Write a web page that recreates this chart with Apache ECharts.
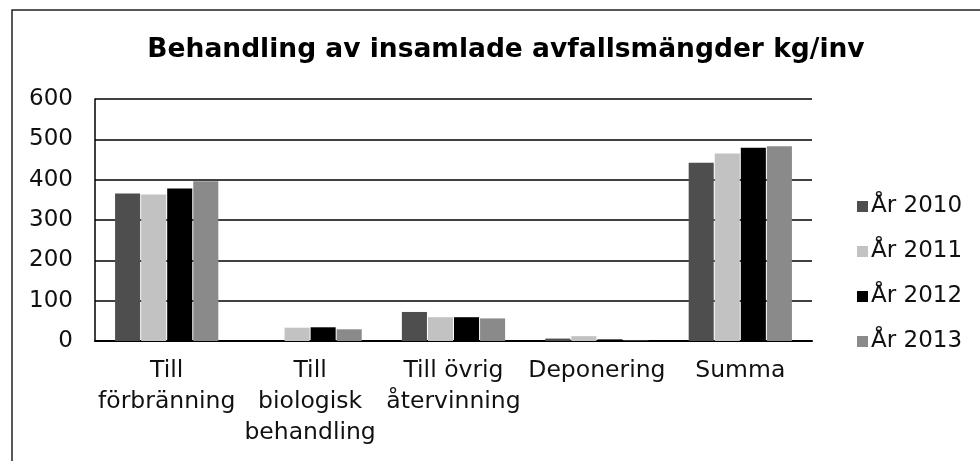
<!DOCTYPE html>
<html>
<head>
<meta charset="utf-8">
<script src="https://cdn.jsdelivr.net/npm/echarts@6/dist/echarts.min.js"></script>
<style>
  html, body { margin: 0; padding: 0; background: #fff; }
  #chart { width: 980px; height: 461px; }
</style>
</head>
<body>
<div id="chart"></div>
<script>
'use strict';
// kategorier och värden (kg/inv)
let categories = ['Till\nförbränning', 'Till\nbiologisk\nbehandling', 'Till övrig\nåtervinning', 'Deponering', 'Summa'];
let years = ['År 2010', 'År 2011', 'År 2012', 'År 2013'];
let y2010 = [366, 0, 72, 6, 442];
let y2011 = [363, 33, 59, 12, 465];
let y2012 = [378, 34, 59, 4, 479];
let y2013 = [396, 29, 56, 1, 483];
let yTicks = [0, 100, 200, 300, 400, 500, 600];

let colors = ['#4e4e4e', '#c2c2c2', '#000000', '#8a8a8a'];
let allData = [y2010, y2011, y2012, y2013];

let myChart = echarts.init(document.getElementById('chart'));
let series = [];
for (let i = 0; i < years.length; i++) {
    series.push({
        name: years[i],
        type: 'bar',
        data: allData[i],
        barGap: '4%',
        barCategoryGap: '28%',
        itemStyle: { color: colors[i] },
    });
}

let font = 'DejaVu Sans, Liberation Sans, sans-serif';
let option = {
    animation: false,
    textStyle: { fontFamily: font },
    title: {
        text: 'Behandling av insamlade avfallsmängder kg/inv',
        left: 501,
        textAlign: 'center',
        top: 32,
        textStyle: { fontSize: 26.5, fontWeight: 'bold', color: '#000', fontFamily: font },
    },
    graphic: [{
        type: 'polyline',
        shape: { points: [[980, 10], [12, 10], [12, 461]] },
        style: { stroke: '#222', lineWidth: 1.5, fill: null },
    }],
    legend: {
        orient: 'vertical',
        left: 852,
        top: 190,
        itemWidth: 11,
        itemHeight: 11,
        itemGap: 22,
        icon: 'rect',
        textStyle: { fontSize: 23, color: '#111', fontFamily: font, padding: [0, 0, 0, -2] },
        data: years,
    },
    grid: { left: 95, right: 168, top: 99, bottom: 120 },
    xAxis: {
        type: 'category',
        data: categories,
        axisLine: { lineStyle: { color: '#000', width: 2 } },
        axisTick: { show: false },
        axisLabel: { fontSize: 23.5, color: '#111', lineHeight: 31, margin: 14, interval: 0, fontFamily: font },
    },
    yAxis: {
        type: 'value',
        min: 0,
        max: 600,
        interval: 100,
        axisLine: { show: true, lineStyle: { color: '#000', width: 1.5 } },
        axisTick: { show: false },
        splitLine: { lineStyle: { color: '#000', width: 1.5 } },
        axisLabel: {
            fontSize: 23, color: '#111', margin: 22, fontFamily: font,
            formatter: function(v) { return yTicks.indexOf(v) >= 0 ? String(v) : ''; },
        },
    },
    series: series,
};
myChart.setOption(option);
</script>
</body>
</html>
